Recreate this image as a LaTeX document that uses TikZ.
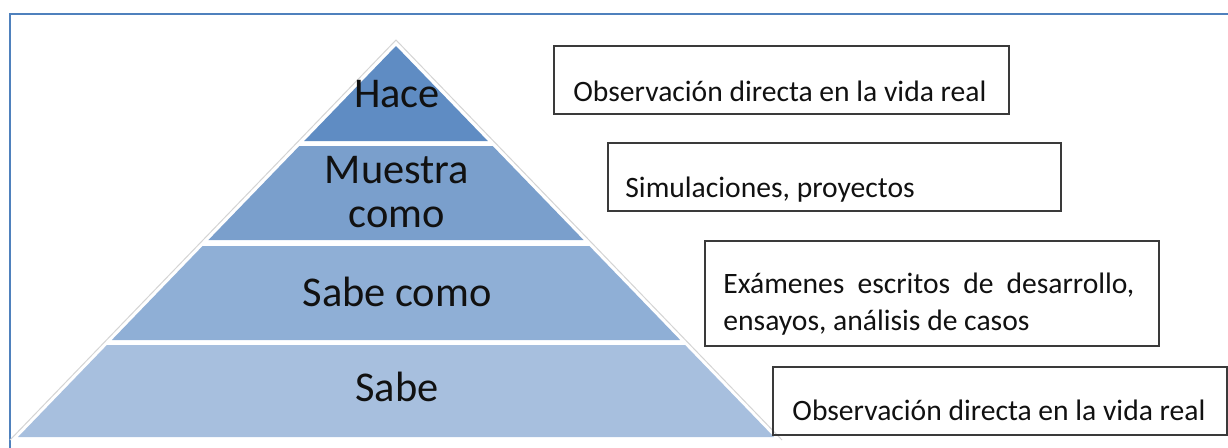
\documentclass[tikz,border=0pt]{standalone}
\usepackage{fontspec}
\setmainfont{Carlito}
\usetikzlibrary{calc}
\definecolor{frameblue}{HTML}{4F81BD}
\definecolor{tierA}{HTML}{5F8CC3}
\definecolor{tierB}{HTML}{7A9FCC}
\definecolor{tierC}{HTML}{8FAFD6}
\definecolor{tierD}{HTML}{A7BFDE}
\definecolor{glow}{HTML}{D4D4D4}
\definecolor{boxline}{HTML}{3A3A3A}
\definecolor{txt}{HTML}{111111}
\tikzset{
  tiertext/.style={anchor=base, inner sep=0pt, text=txt, font=\fontsize{21.2}{22}\selectfont},
  boxtext/.style={anchor=base west, inner sep=0pt, text=txt, font=\fontsize{14.8}{18}\selectfont},
  infobox/.style={draw=boxline, line width=0.8pt, rectangle, inner sep=0pt, anchor=north west},
}
\begin{document}
\begin{tikzpicture}[x=0.5pt, y=-0.5pt]
\useasboundingbox (0,0) rectangle (1228,447);
% outer frame (extends beyond the picture on the right and bottom)
\begin{scope}
\clip (0,0) rectangle (1228,447);
\draw[frameblue, line width=1.2pt] (10,14) rectangle (1240,460);
\end{scope}
% faint outline around pyramid
\coordinate (gapex) at (396,40);
\coordinate (gbl) at (10,440);
\coordinate (gbr) at (782,440);
\draw[glow, line width=0.5pt] (gbl) -- (gapex) -- (gbr);
% tiers
\fill[tierA] (396,46) -- (487.8,141) -- (304.2,141) -- cycle;
\fill[tierB] (299.3,146) -- (492.7,146) -- (583.6,240) -- (208.4,240) -- cycle;
\fill[tierC] (202.6,246) -- (589.4,246) -- (680.2,340) -- (111.8,340) -- cycle;
\fill[tierD] (106.9,345) -- (685.1,345) -- (774,437) -- (18,437) -- cycle;
% tier labels
\node[tiertext] (hace) at (397,107) {Hace};
\node[tiertext] (muestra) at (397,183) {Muestra};
\node[tiertext] (como) at (397,227) {como};
\node[tiertext] (sabecomo) at (397,306) {Sabe como};
\node[tiertext] (sabe) at (397,401) {Sabe};
% right-hand boxes
\node[infobox, minimum width=227.5pt, minimum height=34pt] (b1) at (553,45) {};
\node[boxtext] (t1) at (573,101) {Observación directa en la vida real};
\node[infobox, minimum width=226.5pt, minimum height=34pt] (b2) at (607,142) {};
\node[boxtext] (t2) at (625,197) {Simulaciones, proyectos};
\node[infobox, minimum width=227pt, minimum height=52.5pt] (b3) at (704,240) {};
\node[boxtext] (t3a) at (723,293) {\makebox[205.5pt][s]{Exámenes escritos de desarrollo,}};
\node[boxtext] (t3b) at (723,330) {ensayos, análisis de casos};
\node[infobox, minimum width=227pt, minimum height=34pt] (b4) at (772,366) {};
\node[boxtext] (t4) at (792,420) {Observación directa en la vida real};
\end{tikzpicture}
\end{document}
